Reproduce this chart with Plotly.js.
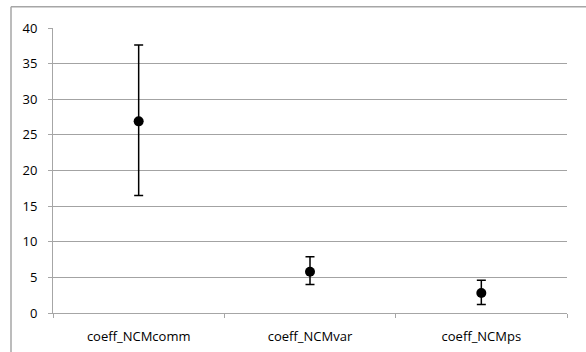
<!DOCTYPE html>
<html>
<head>
<meta charset="utf-8">
<script src="https://cdn.plot.ly/plotly-3.0.1.min.js"></script>
<style>html,body{margin:0;padding:0;background:#fff;}#chart{width:586px;height:352px;}</style>
</head>
<body>
<div id="chart"></div>
<script>
var categories = ["coeff_NCMcomm", "coeff_NCMvar", "coeff_NCMps"];
var values = [26.9, 5.8, 2.8];
var upper = [37.6, 7.9, 4.6];
var lower = [16.5, 4.0, 1.2];
var yTicks = [0, 5, 10, 15, 20, 25, 30, 35, 40];

var errPlus = values.map(function (v, i) { return upper[i] - v; });
var errMinus = values.map(function (v, i) { return v - lower[i]; });

var trace = {
  type: "scatter",
  mode: "markers",
  x: [0, 1, 2],
  y: values,
  marker: { color: "#000000", size: 10 },
  error_y: {
    type: "data",
    symmetric: false,
    array: errPlus,
    arrayminus: errMinus,
    color: "#000000",
    thickness: 1.5,
    width: 4.5
  },
  hoverinfo: "skip",
  showlegend: false
};

var layout = {
  width: 586,
  height: 352,
  margin: { l: 53, r: 19, t: 28, b: 39 },
  paper_bgcolor: "#ffffff",
  plot_bgcolor: "#ffffff",
  font: { family: "Open Sans, sans-serif", size: 13, color: "#000000" },
  xaxis: {
    range: [-0.5, 2.5],
    tickmode: "array",
    tickvals: [0, 1, 2],
    ticktext: categories,
    ticks: "",
    ticklabelstandoff: 14,
    showgrid: false,
    zeroline: false,
    showline: false,
    fixedrange: true
  },
  xaxis2: {
    overlaying: "x",
    range: [-0.5, 2.5],
    tickmode: "array",
    tickvals: [-0.5, 0.5, 1.5, 2.5],
    ticktext: ["", "", "", ""],
    ticks: "outside",
    ticklen: 4,
    tickcolor: "#a6a6a6",
    showgrid: false,
    zeroline: false,
    showline: true,
    linecolor: "#a6a6a6",
    linewidth: 1,
    anchor: "y",
    side: "bottom",
    fixedrange: true
  },
  yaxis: {
    range: [0, 40],
    tickmode: "array",
    tickvals: yTicks,
    ticks: "outside",
    ticklen: 4,
    tickcolor: "#a6a6a6",
    showgrid: true,
    gridcolor: "#a3a3a3",
    gridwidth: 1,
    zeroline: false,
    showline: true,
    linecolor: "#a6a6a6",
    linewidth: 1,
    ticklabelstandoff: 8,
    fixedrange: true
  },
  shapes: [
    { type: "line", xref: "paper", yref: "paper", x0: -0.0817, x1: -0.0817, y0: 1.075, y1: -0.3,
      line: { color: "#a6a6a6", width: 1.5 } },
    { type: "line", xref: "paper", yref: "paper", x0: -0.0817, x1: 1.1, y0: 1.075, y1: 1.075,
      line: { color: "#a6a6a6", width: 1.5 } }
  ]
};

var dummy = { type: "scatter", mode: "markers", x: [0], y: [0], xaxis: "x2", yaxis: "y",
  marker: { opacity: 0 }, hoverinfo: "skip", showlegend: false };

Plotly.newPlot("chart", [dummy, trace], layout, { staticPlot: true, displayModeBar: false });
</script>
</body>
</html>
